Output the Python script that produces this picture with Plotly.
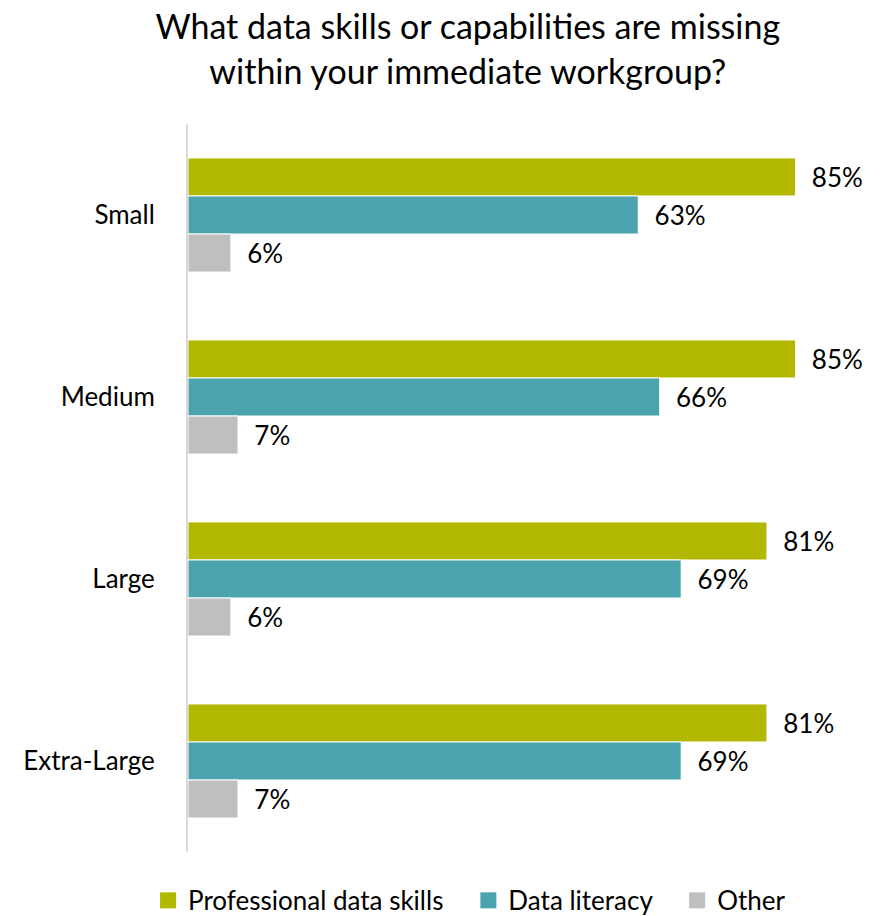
import plotly.graph_objects as go

# Survey responses by organisation size
categories = ["Small", "Medium", "Large", "Extra-Large"]
series_names = ["Professional data skills", "Data literacy", "Other"]
professional = [85, 85, 81, 81]
literacy = [63, 66, 69, 69]
other = [6, 7, 6, 7]
colors = ["#B2B800", "#4BA3AD", "#BFBFBF"]

FONT = "Lato"
PAD = "\u00a0" * 3  # extra spacing between legend entries

fig = go.Figure()
for name, vals, col in zip(series_names, [professional, literacy, other], colors):
    fig.add_trace(go.Bar(
        name=name,
        y=categories,
        x=vals,
        orientation="h",
        marker=dict(color=col, line=dict(color="white", width=1)),
        texttemplate="\u00a0\u00a0%{x}%",
        textposition="outside",
        textfont=dict(family=FONT, size=26, color="black"),
        cliponaxis=False,
        showlegend=False,
    ))

# Legend entries with larger square swatches
for i, (name, col) in enumerate(zip(series_names, colors)):
    label = name + (PAD if i < len(series_names) - 1 else "")
    fig.add_trace(go.Scatter(
        name=label,
        x=[None], y=[None],
        mode="markers",
        marker=dict(symbol="square", size=16, color=col),
        showlegend=True,
    ))

fig.update_layout(
    width=891,
    height=916,
    barmode="group",
    bargap=0.373,
    bargroupgap=0,
    plot_bgcolor="white",
    paper_bgcolor="white",
    margin=dict(l=188, r=24, t=124, b=64),
    font=dict(family=FONT, size=24, color="black"),
    title=dict(
        text="What data skills or capabilities are missing<br>within your immediate workgroup?",
        x=0.525, xanchor="center", xref="container",
        y=0.957, yanchor="middle", yref="container",
        font=dict(family=FONT, size=34, color="black"),
    ),
    showlegend=True,
    legend=dict(
        orientation="h",
        xref="container", yref="container",
        x=0.527, xanchor="center",
        y=0.017, yanchor="middle",
        font=dict(family=FONT, size=26, color="black"),
        traceorder="normal",
        itemwidth=30,
    ),
)
fig.update_xaxes(range=[0, 95], visible=False, showgrid=False)
fig.update_yaxes(
    autorange="reversed",
    showline=True, linecolor="#D9D9D9", linewidth=2,
    ticks="", showgrid=False,
    ticklabelstandoff=26,
    tickfont=dict(family=FONT, size=26, color="black"),
)

fig.write_html("out.html")
